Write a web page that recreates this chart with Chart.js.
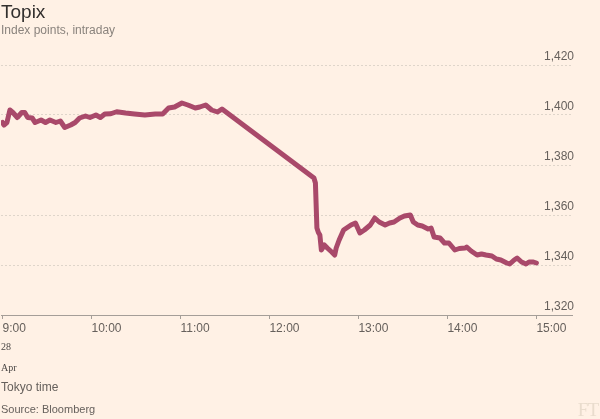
<!DOCTYPE html>
<html>
<head>
<meta charset="utf-8">
<script src="https://cdn.jsdelivr.net/npm/chart.js@4"></script>
<style>
  html, body { margin: 0; padding: 0; background: #fff1e5; }
  #wrap { position: relative; width: 600px; height: 419px; overflow: hidden; font-family: "Liberation Sans", Arial, sans-serif; }
  #wrap canvas { position: absolute; left: 0; top: 0; }
  .txt { position: absolute; left: 1px; white-space: nowrap; }
  #title { top: 1px; font-size: 19px; color: #33302e; }
  #subtitle { top: 23px; font-size: 12px; color: #8a837d; }
  .date { font-family: "Liberation Serif", serif; font-size: 10px; color: #4a4644; }
  #day { top: 341px; }
  #month { top: 362px; }
  #unit { top: 380px; font-size: 12px; color: #66605c; }
  #source { top: 403px; font-size: 11px; color: #66605c; }
  #ft { position: absolute; right: 2px; top: 399px; font-family: "Liberation Serif", serif; font-size: 19px; color: #e9dccd; letter-spacing: -1px; }
</style>
</head>
<body>
<div id="wrap">
  <canvas id="topixChart" width="600" height="419"></canvas>
  <div class="txt" id="title">Topix</div>
  <div class="txt" id="subtitle">Index points, intraday</div>
  <div class="txt date" id="day">28</div>
  <div class="txt date" id="month">Apr</div>
  <div class="txt" id="unit">Tokyo time</div>
  <div class="txt" id="source">Source: Bloomberg</div>
  <div id="ft">FT</div>
</div>
<script>
// minutes after 9:00 Tokyo time
const minutes = [
  0, 1, 3, 5, 7, 10, 13, 15, 17, 20, 22, 26, 29, 32, 36, 39, 42, 46, 49, 52, 56, 59, 63, 66, 69, 73,
  77, 83, 89, 96, 103, 108, 112, 116, 121, 125, 130, 133, 137, 141, 145, 148,
  210, 211, 212, 213, 214, 215, 217, 219, 222, 224, 225, 227, 230, 233, 235, 238, 241, 244, 248,
  251, 254, 258, 261, 264, 268, 271, 275, 277, 280, 283, 287, 289, 291, 295, 298, 301, 305, 308,
  312, 313, 316, 320, 323, 326, 330, 333, 336, 340, 342, 345, 347, 350, 353, 355, 358, 360
];
const topix = [
  1397, 1396, 1397, 1402, 1401, 1399, 1401, 1401, 1399, 1398.8, 1397, 1398, 1397, 1398, 1397, 1397.6, 1395, 1396, 1397, 1398.8, 1399.6, 1399, 1400, 1399, 1400.4, 1400.5,
  1401.3, 1400.8, 1400.4, 1400, 1400.4, 1400.4, 1402.8, 1403.2, 1404.8, 1404, 1402.8, 1403.2, 1404, 1402, 1401.2, 1402.4,
  1374.8, 1372.8, 1354.8, 1353, 1352, 1346, 1348, 1346.8, 1345.2, 1344, 1346.8, 1350, 1354, 1355.2, 1356, 1356.8, 1352.8, 1354, 1356,
  1358.8, 1357.2, 1356, 1356.8, 1357.2, 1358.8, 1359.6, 1360, 1357.2, 1356, 1355.6, 1354.4, 1354.8, 1351.2, 1350.8, 1348.8, 1348.8, 1346, 1346.6,
  1346.8, 1347.2, 1345.6, 1344, 1344.4, 1344, 1343.6, 1342.4, 1342, 1340.8, 1340.4, 1342, 1342.8, 1341.2, 1340.4, 1341.2, 1341.2, 1340.8
];
const hourTicks = [0, 60, 120, 180, 240, 300, 360];
const hourLabels = ['9:00', '10:00', '11:00', '12:00', '13:00', '14:00', '15:00'];
const levels = [1320, 1340, 1360, 1380, 1400, 1420];

const tickFont = { family: '"Liberation Sans", Arial, sans-serif', size: 12 };

new Chart(document.getElementById('topixChart'), {
  type: 'line',
  data: {
    datasets: [{
      data: minutes.map((m, i) => ({ x: m, y: topix[i] })),
      borderColor: '#a9496a',
      borderWidth: 5,
      borderJoinStyle: 'round',
      borderCapStyle: 'round',
      pointRadius: 0,
      tension: 0,
      fill: false,
    }],
  },
  options: {
    responsive: false,
    animation: false,
    layout: { padding: { left: 1, right: 28, top: 65, bottom: 0 } },
    plugins: { legend: { display: false }, tooltip: { enabled: false } },
    scales: {
      x: {
        type: 'linear',
        min: -1,
        max: 384,
        afterBuildTicks: s => { s.ticks = hourTicks.map(v => ({ value: v })); },
        afterFit: s => { s.height = 104; },
        ticks: {
          align: 'start',
          padding: 2,
          color: '#66605c',
          font: tickFont,
          maxRotation: 0,
          callback: v => hourLabels[hourTicks.indexOf(v)],
        },
        grid: { drawOnChartArea: false, tickLength: 4, color: '#a59e98' },
        border: { display: true, color: '#a59e98', width: 1 },
      },
      y: {
        position: 'right',
        min: 1320,
        max: 1420,
        afterBuildTicks: s => { s.ticks = levels.map(v => ({ value: v })); },
        afterFit: s => { s.width = 0; },
        ticks: {
          mirror: true,
          padding: 2,
          labelOffset: -8,
          color: '#66605c',
          font: tickFont,
          callback: v => v.toLocaleString('en-US'),
        },
        grid: { color: '#dfd5ca', drawTicks: false },
        border: { display: false, dash: [2, 2] },
      },
    },
  },
});
</script>
</body>
</html>
